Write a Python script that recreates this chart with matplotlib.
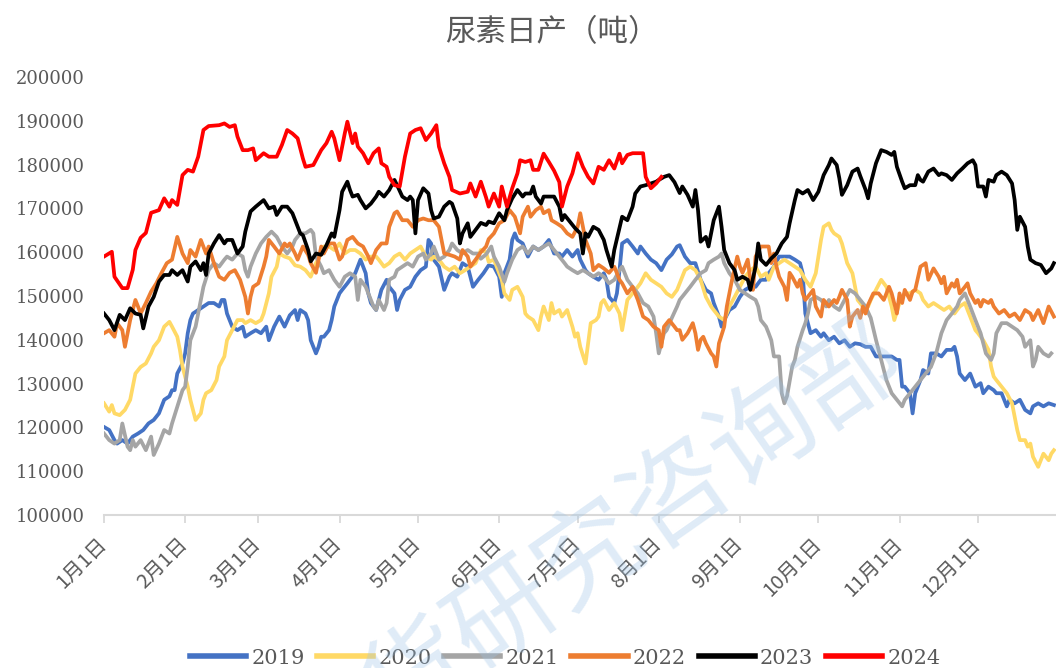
import matplotlib
matplotlib.use("Agg")
import matplotlib.pyplot as plt

plt.rcParams['font.family'] = ['Noto Sans CJK SC', 'DejaVu Sans']

# day-of-year offsets and daily output (thousand tonnes)
s2019 = [(0,120.1),(2,119.4),(4,117.1),(5,116.3),(7,117.1),(9,116.3),(11,117.9),(13,118.6),(15,119.4),(17,120.9),(19,121.7),(21,123.2),(23,126.3),(25,127.1),(26,128.5),(27,128.5),(28,132.3),(30,134.6),(31,136.9),(32,141.5),(33,144.5),(34,146.0),(36,146.8),(38,147.6),(40,148.4),(42,148.4),(44,147.6),(45,149.1),(46,149.1),(47,146.0),(49,143.0),(51,142.2),(53,143.0),(54,140.7),(56,141.5),(58,142.2),(60,141.5),(62,143.0),(63,139.9),(65,143.0),(67,145.3),(69,143.0),(71,145.6),(73,146.8),(74,144.5),(75,146.8),(77,146.0),(78,144.5),(79,139.9),(81,136.9),(82,138.4),(83,140.7),(84,140.7),(86,142.2),(87,144.5),(88,147.6),(90,150.6),(91,151.4),(93,152.9),(94,153.7),(96,155.2),(98,158.3),(100,155.2),(101,150.6),(102,148.4),(104,146.8),(106,151.4),(108,153.7),(109,152.1),(111,150.6),(112,146.8),(113,149.1),(115,151.4),(117,152.1),(119,154.4),(121,155.9),(123,156.7),(124,162.8),(125,162.0),(126,158.3),(128,156.7),(130,151.4),(132,154.4),(133,155.2),(135,154.4),(137,157.5),(139,156.7),(141,152.1),(143,153.7),(145,155.2),(147,157.0),(149,156.7),(151,154.4),(152,149.8),(153,155.2),(155,158.3),(156,162.8),(157,164.3),(158,162.8),(160,162.0),(162,159.0),(164,161.3),(166,160.5),(168,161.3),(170,162.8),(172,159.7),(174,159.7),(175,159.0),(177,160.5),(179,159.0),(181,160.5),(182,158.3),(184,155.9),(185,155.2),(187,154.4),(189,153.7),(191,155.2),(192,153.7),(193,149.8),(195,148.4),(196,150.6),(197,155.9),(198,162.0),(200,162.8),(202,161.3),(204,159.7),(205,161.3),(207,159.7),(209,158.3),(211,157.5),(213,155.9),(215,158.3),(217,159.5),(219,161.3),(220,161.6),(222,159.0),(224,157.5),(226,157.5),(228,153.7),(230,151.4),(232,150.6),(233,148.4),(235,145.3),(236,143.0),(237,144.5),(239,146.8),(241,147.6),(243,149.8),(245,151.4),(247,152.1),(249,152.1),(251,153.7),(253,153.7),(254,155.2),(256,156.7),(258,159.0),(260,159.0),(262,159.0),(264,158.3),(266,157.5),(267,155.2),(268,146.0),(270,141.5),(272,142.2),(274,140.7),(275,141.5),(277,139.9),(279,140.7),(281,139.2),(283,139.9),(285,138.4),(287,139.2),(289,139.0),(291,138.4),(293,138.4),(295,136.2),(297,136.2),(299,136.2),(301,136.2),(303,135.4),(304,135.4),(305,129.3),(306,129.3),(308,127.8),(309,123.2),(310,127.8),(312,130.8),(313,133.1),(315,132.3),(316,136.9),(318,136.9),(320,136.2),(322,137.7),(324,137.7),(325,138.4),(326,136.2),(327,132.3),(329,130.8),(331,132.3),(332,130.8),(333,129.3),(335,130.1),(336,127.8),(338,129.3),(340,128.5),(341,127.8),(343,127.8),(345,124.8),(346,126.3),(348,125.5),(350,126.3),(352,124.0),(354,123.2),(355,124.8),(357,125.5),(359,124.8),(361,125.5),(363,125.1)]

s2020 = [(0,125.5),(2,123.6),(3,125.1),(4,123.2),(6,122.8),(8,124.0),(10,126.3),(11,129.3),(12,132.3),(14,133.8),(16,134.6),(18,136.9),(19,138.4),(21,139.9),(23,143.0),(25,144.1),(26,143.0),(28,140.7),(29,137.7),(30,133.9),(32,129.3),(33,126.3),(34,124.0),(35,121.7),(37,123.2),(38,126.3),(39,127.8),(41,128.5),(43,130.8),(44,133.9),(46,136.2),(47,139.9),(49,142.2),(51,144.5),(53,144.5),(54,143.8),(56,144.5),(58,143.8),(60,144.5),(61,146.0),(63,150.6),(64,154.4),(66,156.7),(67,159.7),(69,159.0),(71,158.6),(73,157.0),(75,156.7),(77,155.9),(79,154.4),(81,157.5),(83,159.7),(84,161.3),(86,161.3),(88,160.5),(90,162.0),(92,159.7),(94,160.5),(96,160.5),(98,159.7),(100,158.3),(102,159.0),(104,159.0),(105,158.3),(107,156.7),(109,157.5),(111,159.0),(113,159.7),(115,158.3),(117,159.7),(119,160.5),(121,161.3),(123,159.0),(125,158.3),(126,159.0),(128,158.3),(130,156.7),(132,155.9),(134,156.7),(136,155.2),(138,155.9),(140,156.7),(142,157.5),(144,160.5),(146,160.0),(147,157.8),(149,158.3),(151,155.2),(152,153.7),(153,150.6),(155,149.1),(156,151.4),(158,152.1),(160,149.8),(161,146.0),(162,145.3),(164,144.5),(166,142.2),(167,145.3),(168,147.6),(170,144.5),(171,148.4),(172,146.0),(174,146.8),(175,145.3),(177,146.8),(179,143.0),(180,140.7),(181,141.5),(182,138.4),(184,134.6),(185,139.2),(186,143.8),(188,144.5),(189,145.3),(190,148.4),(191,149.1),(193,146.8),(194,147.6),(195,148.4),(197,146.0),(198,142.2),(200,149.1),(202,150.6),(204,152.1),(205,152.9),(207,155.2),(209,153.7),(211,152.9),(213,152.1),(215,150.6),(217,149.8),(219,151.4),(220,152.9),(222,155.9),(224,156.7),(226,155.9),(228,153.7),(230,149.8),(232,147.6),(233,146.8),(235,145.3),(237,144.5),(239,147.6),(241,149.8),(243,152.1),(245,154.4),(247,155.9),(249,156.7),(251,154.4),(253,155.2),(254,153.7),(256,156.7),(258,157.5),(260,158.3),(262,157.5),(264,156.7),(266,155.9),(268,153.7),(270,152.1),(272,155.2),(273,159.0),(274,162.8),(275,165.8),(277,166.6),(278,165.1),(279,164.3),(281,163.5),(282,162.0),(283,159.7),(284,157.5),(286,155.2),(287,152.1),(288,149.1),(290,147.6),(292,147.6),(293,149.1),(297,153.7),(299,152.1),(301,147.6),(302,144.5),(304,148.4),(306,150.6),(308,150.6),(310,151.4),(312,150.6),(313,149.1),(315,147.6),(317,148.4),(319,147.6),(321,146.8),(323,147.6),(325,146.0),(327,147.6),(329,148.4),(330,146.8),(331,145.3),(333,142.2),(334,141.5),(335,140.7),(336,139.9),(338,137.7),(339,133.9),(340,131.6),(341,130.8),(343,129.3),(345,127.8),(347,125.5),(348,122.4),(349,119.4),(350,117.1),(352,117.1),(353,115.6),(354,116.3),(355,113.3),(357,111.0),(358,112.5),(359,114.0),(361,112.5),(362,114.0),(363,114.8)]

s2021 = [(0,118.6),(2,117.1),(4,116.3),(6,117.1),(7,120.9),(9,115.6),(10,114.8),(11,117.1),(12,115.6),(14,117.1),(16,114.8),(18,117.9),(19,113.7),(21,116.3),(23,119.4),(25,118.6),(26,120.9),(28,124.7),(30,128.5),(31,129.3),(32,133.9),(33,139.9),(35,143.0),(36,146.0),(38,152.1),(40,155.9),(42,157.5),(44,156.7),(46,158.3),(47,159.0),(49,158.3),(51,159.7),(53,159.0),(54,155.9),(55,154.4),(56,156.7),(58,159.7),(60,162.0),(62,163.5),(64,164.7),(66,163.5),(68,161.3),(70,159.7),(72,161.3),(73,162.8),(75,164.3),(77,164.3),(79,165.1),(80,164.3),(81,159.0),(83,156.7),(84,155.2),(86,155.9),(88,153.7),(90,152.1),(92,154.4),(94,155.2),(96,154.4),(97,149.1),(98,153.7),(100,152.1),(102,149.1),(103,147.6),(104,146.8),(105,149.1),(107,146.8),(108,148.4),(109,153.7),(111,154.4),(112,155.9),(114,156.7),(116,157.5),(118,156.7),(120,159.0),(122,159.7),(123,158.3),(125,159.7),(126,161.3),(128,158.3),(130,159.0),(132,160.5),(133,162.0),(135,160.5),(137,159.7),(139,160.5),(141,159.7),(143,159.7),(144,158.5),(146,159.5),(148,161.3),(149,159.0),(151,156.7),(153,153.3),(154,155.2),(156,158.3),(158,160.5),(160,161.3),(162,159.7),(164,161.3),(166,160.5),(168,161.3),(170,162.0),(172,160.5),(174,159.0),(176,157.5),(177,156.7),(179,155.9),(181,155.2),(183,155.9),(185,155.2),(187,154.4),(189,155.2),(191,154.4),(193,152.9),(195,153.7),(197,155.9),(198,156.7),(200,153.7),(202,152.1),(204,150.6),(206,148.4),(208,147.6),(210,145.3),(211,141.5),(212,136.9),(214,141.5),(215,142.2),(217,145.0),(219,147.6),(220,149.1),(222,150.6),(224,152.1),(226,153.7),(228,155.2),(230,155.9),(231,157.5),(233,158.3),(235,159.0),(236,159.7),(237,157.5),(239,155.2),(241,153.7),(243,151.4),(245,150.6),(247,149.8),(249,149.1),(250,147.6),(251,144.5),(253,143.0),(254,141.5),(255,139.9),(256,136.2),(258,136.2),(259,127.8),(260,125.5),(261,127.1),(263,133.9),(264,135.4),(265,138.4),(267,142.2),(268,143.8),(269,146.0),(270,149.1),(272,149.8),(274,149.1),(276,147.6),(277,149.1),(279,147.6),(281,146.8),(283,149.1),(285,151.4),(287,150.6),(289,149.1),(291,147.6),(293,145.0),(295,140.0),(297,135.4),(299,130.8),(301,127.8),(303,126.3),(305,124.8),(306,126.3),(308,127.8),(310,129.3),(312,130.8),(314,132.3),(316,133.8),(318,136.9),(320,141.5),(322,144.5),(324,146.0),(326,147.6),(327,149.1),(329,150.6),(331,147.6),(333,144.5),(335,141.5),(337,136.9),(339,135.4),(340,136.9),(341,141.5),(343,143.8),(345,143.8),(347,143.0),(349,142.2),(351,140.7),(352,138.4),(354,139.9),(355,133.9),(356,135.4),(357,138.4),(359,136.9),(361,136.2),(362,136.9)]

s2022 = [(0,141.5),(2,142.2),(4,140.7),(5,143.8),(7,142.2),(8,138.4),(10,144.5),(12,149.1),(13,147.6),(14,146.0),(16,148.4),(18,151.0),(20,152.9),(22,155.3),(24,157.5),(26,158.3),(28,163.5),(30,159.7),(32,157.5),(33,160.5),(35,159.0),(37,162.8),(39,159.7),(40,161.3),(42,157.5),(44,154.4),(46,153.7),(48,155.3),(50,155.9),(52,153.7),(54,149.8),(55,146.0),(56,149.8),(57,152.1),(59,152.9),(61,156.7),(62,159.0),(63,162.8),(65,161.3),(67,159.7),(69,162.0),(70,161.3),(71,162.0),(73,159.7),(74,158.3),(76,161.3),(78,159.4),(79,157.5),(81,155.3),(83,161.3),(84,159.7),(86,162.0),(88,162.0),(90,158.3),(91,159.0),(93,162.8),(95,163.5),(97,162.0),(99,161.3),(101,159.0),(102,157.5),(104,160.5),(106,162.0),(108,162.0),(109,165.8),(111,168.9),(112,169.3),(114,167.3),(116,167.3),(118,165.8),(120,167.3),(122,167.7),(124,167.3),(126,167.3),(128,165.8),(129,162.8),(130,159.7),(132,159.4),(134,159.0),(136,158.3),(137,160.5),(139,159.0),(140,156.7),(142,158.3),(144,160.0),(146,161.3),(147,163.0),(149,164.3),(151,166.6),(153,167.3),(155,169.6),(157,168.1),(159,164.3),(160,168.1),(162,170.4),(163,168.1),(165,169.6),(167,170.4),(168,168.9),(170,169.6),(171,167.3),(173,166.6),(175,165.8),(177,164.3),(179,163.5),(181,165.8),(182,168.9),(183,165.8),(184,162.8),(186,159.7),(187,155.9),(189,157.1),(191,156.3),(193,155.3),(195,156.7),(197,153.7),(198,152.9),(200,150.6),(202,152.1),(204,149.1),(206,145.3),(208,144.5),(210,143.0),(212,142.2),(213,138.4),(214,143.0),(216,144.5),(218,143.0),(219,142.2),(220,142.2),(221,140.0),(223,141.5),(225,143.8),(226,141.5),(227,137.7),(228,140.0),(229,140.7),(230,139.2),(232,136.9),(233,136.2),(234,133.9),(235,139.2),(237,143.0),(238,147.6),(239,150.6),(240,153.7),(242,159.0),(243,156.7),(244,155.3),(246,158.3),(247,153.7),(248,151.4),(249,159.0),(251,161.3),(253,161.3),(254,161.3),(255,157.5),(256,159.7),(257,156.7),(258,154.4),(260,152.1),(261,149.1),(262,155.3),(263,154.4),(265,152.1),(266,153.7),(267,150.6),(268,149.1),(270,150.6),(271,151.4),(272,147.6),(274,145.3),(275,149.1),(276,148.4),(277,147.6),(279,149.1),(280,148.4),(281,149.8),(282,151.4),(284,149.1),(285,143.0),(286,145.3),(288,146.8),(289,145.0),(290,147.6),(291,146.0),(292,148.0),(294,150.6),(296,150.6),(298,149.1),(300,152.1),(301,150.6),(303,146.0),(304,150.6),(305,148.4),(306,151.4),(308,149.1),(309,151.0),(310,151.4),(312,156.7),(314,157.5),(315,153.7),(317,156.3),(319,154.4),(320,152.9),(321,154.4),(322,150.6),(324,152.9),(325,152.1),(326,153.7),(327,150.6),(329,152.1),(330,152.9),(331,150.6),(333,148.4),(334,149.1),(335,147.6),(336,149.1),(338,148.4),(339,149.1),(340,147.6),(342,146.0),(344,146.8),(346,145.3),(348,146.0),(350,144.5),(352,146.8),(354,146.0),(355,144.5),(357,146.8),(359,143.8),(361,147.6),(363,145.3)]

s2023 = [(0,146.0),(2,144.5),(4,142.2),(6,145.7),(8,144.5),(10,147.2),(12,146.0),(14,145.7),(15,142.6),(17,147.6),(19,149.8),(21,153.3),(23,154.8),(25,154.8),(26,155.9),(28,154.8),(30,155.9),(32,153.3),(33,156.7),(35,157.9),(37,155.9),(38,157.5),(39,154.8),(40,159.7),(42,162.0),(44,163.9),(46,162.0),(47,162.8),(49,162.8),(51,159.7),(53,161.3),(54,164.7),(56,169.3),(58,170.4),(61,171.9),(63,170.0),(65,170.4),(66,168.5),(68,170.4),(70,170.4),(72,168.9),(74,165.8),(75,164.3),(76,163.9),(78,160.5),(79,157.9),(81,159.7),(83,159.4),(85,161.6),(87,164.3),(88,163.5),(90,169.6),(91,173.8),(93,176.1),(94,174.2),(95,172.7),(97,173.1),(98,171.9),(100,170.0),(102,171.1),(104,172.7),(105,173.8),(107,172.7),(109,174.2),(111,176.5),(112,175.3),(114,172.7),(116,171.9),(117,172.7),(118,171.9),(119,164.3),(120,171.9),(122,174.6),(124,173.4),(125,169.6),(126,167.7),(128,168.1),(130,170.4),(132,171.5),(133,171.1),(135,167.7),(136,162.0),(137,164.3),(139,166.6),(140,163.5),(142,165.1),(144,166.7),(146,166.2),(147,167.0),(149,166.6),(151,168.9),(153,167.3),(154,169.6),(156,172.3),(158,174.2),(160,172.7),(161,173.4),(163,173.4),(164,175.0),(165,172.7),(167,171.1),(168,172.7),(170,172.7),(172,172.7),(174,170.4),(175,167.3),(176,168.5),(178,167.0),(180,165.5),(182,164.3),(183,159.7),(184,164.3),(185,163.5),(187,165.8),(189,165.1),(191,162.8),(192,160.5),(194,156.7),(195,160.5),(197,165.5),(198,168.1),(200,167.3),(202,170.4),(203,173.4),(205,175.0),(207,175.3),(209,175.7),(211,176.1),(212,176.5),(214,177.2),(216,177.6),(218,176.0),(220,173.5),(221,175.0),(223,173.1),(225,170.4),(226,174.2),(227,169.6),(228,162.4),(230,163.5),(231,161.3),(232,164.3),(233,167.3),(235,170.4),(236,165.8),(237,160.5),(239,157.5),(241,155.9),(242,153.7),(244,154.4),(246,153.7),(247,151.4),(249,156.7),(250,162.0),(251,158.3),(253,157.1),(255,158.6),(257,159.7),(259,162.0),(261,163.5),(262,166.6),(264,171.9),(265,174.2),(267,173.4),(269,174.2),(271,171.9),(273,173.8),(275,177.6),(277,179.9),(278,181.4),(280,179.9),(281,176.9),(282,173.1),(284,175.3),(286,178.4),(288,179.1),(289,177.4),(291,174.3),(292,172.3),(293,175.7),(295,180.3),(297,183.3),(299,182.9),(301,182.2),(302,182.9),(303,179.5),(305,176.1),(306,174.6),(308,175.3),(310,175.3),(311,177.6),(312,176.5),(313,176.1),(315,178.4),(317,179.1),(319,177.6),(320,178.0),(322,177.6),(324,176.5),(326,178.0),(328,179.1),(330,180.3),(332,181.0),(333,179.9),(334,175.0),(336,175.0),(337,172.7),(338,176.5),(340,176.1),(341,177.6),(343,178.4),(345,177.6),(347,175.7),(348,171.9),(349,165.1),(350,168.1),(352,165.8),(353,161.3),(354,158.3),(356,157.5),(358,157.1),(360,155.2),(362,156.3),(363,157.5)]

s2024 = [(0,159.0),(3,160.1),(4,154.4),(7,151.8),(9,151.8),(11,156.0),(12,160.5),(14,163.3),(16,164.4),(18,169.0),(21,169.6),(23,172.3),(25,170.4),(26,171.9),(28,170.8),(30,177.6),(32,178.8),(34,178.4),(36,181.8),(38,187.9),(40,188.8),(44,189.0),(46,189.4),(48,188.6),(50,189.0),(51,186.4),(53,183.3),(55,183.3),(57,183.7),(58,181.0),(61,182.6),(63,181.8),(66,181.8),(68,184.5),(70,187.9),(72,187.1),(74,186.0),(76,181.4),(77,179.5),(80,179.9),(83,183.3),(85,184.9),(87,187.5),(88,186.0),(90,181.0),(92,187.1),(93,189.8),(95,184.9),(96,187.1),(97,184.1),(99,182.6),(101,180.3),(103,182.6),(105,183.7),(106,180.3),(108,179.5),(109,177.2),(111,175.3),(113,175.0),(115,181.8),(117,187.1),(119,187.9),(121,188.3),(123,185.6),(125,187.1),(127,189.0),(128,184.1),(130,180.3),(132,177.2),(133,174.2),(136,173.4),(139,173.8),(140,175.7),(142,172.7),(144,176.1),(146,172.5),(147,170.4),(149,173.4),(151,170.4),(152,175.0),(154,170.4),(156,174.6),(158,178.0),(159,181.0),(161,180.6),(163,181.0),(164,178.8),(166,178.8),(168,182.5),(170,180.6),(172,178.6),(174,176.0),(175,170.4),(177,175.0),(179,178.0),(181,182.6),(183,179.5),(185,177.2),(187,175.7),(189,179.5),(191,178.8),(193,181.0),(195,179.1),(197,182.5),(198,180.3),(200,182.2),(202,182.6),(204,182.6),(206,182.6),(207,177.2),(209,174.6),(211,175.7),(213,177.2)]

years = ['2019', '2020', '2021', '2022', '2023', '2024']
colors = ['#4472C4', '#FFD966', '#A5A5A5', '#ED7D31', '#000000', '#FF0000']
series = [s2019, s2020, s2021, s2022, s2023, s2024]

month_starts = [0, 31, 59, 90, 120, 151, 181, 212, 243, 273, 304, 334]
month_labels = [f"{m}月1日" for m in range(1, 13)]
y_ticks = list(range(100000, 200001, 10000))

grey = '#595959'
W, H = 1056, 668
fig = plt.figure(figsize=(W / 100, H / 100), dpi=100)
ax = fig.add_axes([104 / W, 1 - 515 / H, 1 - 104 / W, (515 - 77) / H])

for year, pts, c in zip(years, series, colors):
    d = [p[0] for p in pts]
    v = [p[1] * 1000 for p in pts]
    ax.plot(d, v, color=c, lw=2.7, label=year, solid_joinstyle='round')

ax.set_xlim(0, 363.8)
ax.set_ylim(100000, 200000)
ax.set_yticks(y_ticks)
ax.set_yticklabels([str(t) for t in y_ticks], family='DejaVu Serif', fontsize=13, color=grey)
ax.set_xticks(month_starts)
ax.set_xticklabels(month_labels, rotation=45, ha='right', va='center',
                   rotation_mode='anchor', fontsize=14.5, color=grey)

for s in ['top', 'right', 'left']:
    ax.spines[s].set_visible(False)
ax.spines['bottom'].set_color('#D9D9D9')
ax.spines['bottom'].set_linewidth(1.5)
ax.tick_params(axis='x', length=6, width=1.3, color='#D9D9D9', pad=13)
ax.tick_params(axis='y', length=0, pad=14)

fig.text(552 / W, 1 - 33 / H, '尿素日产（吨）', ha='center', va='center',
         fontsize=22, color=grey)

leg = fig.legend(loc='center', bbox_to_anchor=(565 / W, 1 - 658 / H), ncol=6,
                 frameon=False, handlelength=2.7, handletextpad=0.25,
                 columnspacing=0.6, prop={'family': 'DejaVu Serif', 'size': 15})
for line in leg.get_lines():
    line.set_linewidth(4)
for t in leg.get_texts():
    t.set_color(grey)

# faint watermark
fig.text(591 / W, 1 - 556 / H, '期货研究咨询部', rotation=35, fontsize=76,
         color='#9DC3E6', alpha=0.32, ha='center', va='center',
         rotation_mode='anchor', zorder=10)

fig.savefig('out.png', dpi=100)
